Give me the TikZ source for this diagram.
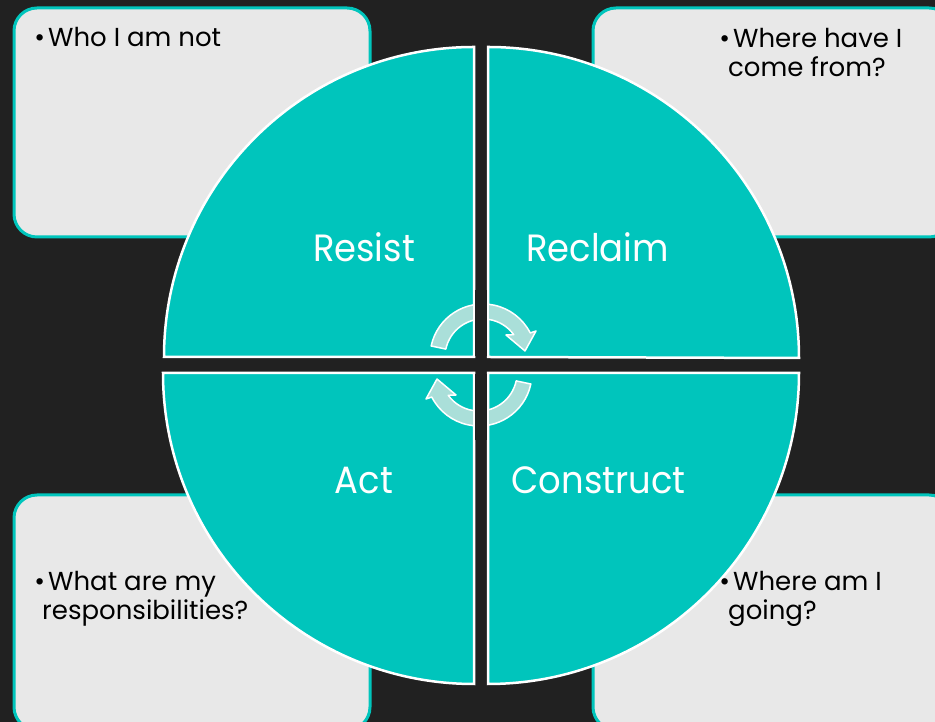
\documentclass[tikz,border=0pt]{standalone}
\usepackage{fontspec}
\newfontfamily\gothic{Poppins}
\newfontfamily\gothicnarrow{Poppins}[FakeStretch=0.93]
\definecolor{bgdark}{RGB}{33,33,33}
\definecolor{quadteal}{RGB}{0,197,188}
\definecolor{cardgray}{RGB}{232,232,232}
\definecolor{arrowpale}{RGB}{170,223,217}
\begin{document}
\begin{tikzpicture}[x=1pt,y=1pt,
  card/.style={draw=quadteal, line width=3pt, fill=cardgray, rounded corners=23pt},
  quarter/.style={fill=quadteal, draw=white, line width=2.5pt},
  cyc/.style={fill=arrowpale, draw=white, line width=1.5pt, line join=round},
  lbl/.style={text=white, font=\gothicnarrow\fontsize{38}{46}\selectfont, anchor=base, inner sep=0pt},
  note/.style={text=black, font=\gothic\fontsize{26}{29}\selectfont, align=left, inner sep=0pt, anchor=base west}]
% background and page frame
\fill[bgdark] (0,0) rectangle (935,722);
\useasboundingbox (0,0) rectangle (935,722);

% four note cards
\draw[card] (14,485) rectangle (370,714);
\draw[card] (593,485) rectangle (952,714);
\draw[card] (14,-8) rectangle (370,227);
\draw[card] (593,-8) rectangle (952,227);

% four quarters of the disc
\draw[quarter] (474,365) -- (164,365) arc[start angle=180,end angle=90,radius=310pt] -- cycle;
\draw[quarter] (488,365) -- (488,675) arc[start angle=90,end angle=0,radius=311pt] -- cycle;
\draw[quarter] (474,349) -- (163,349) arc[start angle=180,end angle=270,radius=311pt] -- cycle;
\draw[quarter] (488,349) -- (488,38) arc[start angle=270,end angle=360,radius=311pt] -- cycle;

% two circular arrows in the middle
\begin{scope}[shift={(483,365)}]
  \draw[cyc] (168:53pt) arc[start angle=168,end angle=27,radius=53pt] -- (53pt,26pt) -- (42pt,6pt) -- (23pt,22pt) -- (36:38pt) arc[start angle=36,end angle=168,radius=38pt] -- cycle;
\end{scope}
\begin{scope}[rotate around={180:(481,357)}, shift={(483,365)}]
  \draw[cyc] (168:53pt) arc[start angle=168,end angle=27,radius=53pt] -- (53pt,26pt) -- (42pt,6pt) -- (23pt,22pt) -- (36:38pt) arc[start angle=36,end angle=168,radius=38pt] -- cycle;
\end{scope}

% vertical gap running over the arrows
\fill[bgdark] (475.25,366.25) rectangle (486.75,432);
\fill[bgdark] (475.25,282) rectangle (486.75,347.75);
\draw[white, line width=2.5pt] (474,365) -- (474,432) (488,365) -- (488,432);
\draw[white, line width=2.5pt] (474,349) -- (474,282) (488,349) -- (488,282);

% quarter labels
\node[lbl] (resist) at (364,460) {Resist};
\node[lbl] (reclaim) at (597.5,460) {Reclaim};
\node[lbl] (act) at (364,228) {Act};
\node[lbl] (construct) at (598.5,228) {Construct};

% card texts (anchored on the baseline of their last line)
\node[note] (notenot) at (48,675) {\llap{\textbullet\hspace{3pt}}Who I am not};
\node[note] (notefrom) at (728,645) {\hspace*{5pt}\llap{\textbullet\hspace{3pt}}Where have I\\come from?};
\node[note] (noteresp) at (42,102) {\hspace*{6pt}\llap{\textbullet\hspace{3pt}}What are my\\responsibilities?};
\node[note] (notegoing) at (728,102) {\hspace*{5pt}\llap{\textbullet\hspace{3pt}}Where am I\\going?};
\end{tikzpicture}
\end{document}
